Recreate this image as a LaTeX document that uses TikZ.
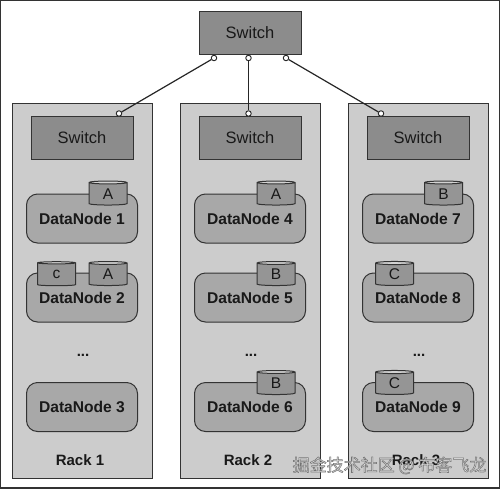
\documentclass[tikz,border=0pt]{standalone}
\usepackage{fontspec}
\setmainfont{Liberation Sans}
\newfontfamily\cjkfont{Noto Sans CJK SC}
\usetikzlibrary{shapes.geometric}
\definecolor{linegray}{HTML}{333333}
\definecolor{rackgray}{HTML}{CCCCCC}
\definecolor{nodegray}{HTML}{A8A8A8}
\definecolor{switchgray}{HTML}{8C8C8C}
\definecolor{diskgray}{HTML}{959595}
\definecolor{capgray}{HTML}{D2D2D2}
\tikzset{
  rackbox/.style={draw=linegray,line width=1pt,fill=rackgray,minimum width=140pt,minimum height=375pt,inner sep=0pt},
  switchbox/.style={draw=linegray,line width=1pt,fill=switchgray,minimum width=102pt,minimum height=43pt,inner sep=0pt,font=\fontsize{16.5}{18}\selectfont,text=black!90},
  datanode/.style={draw=linegray,line width=1pt,fill=nodegray,rounded corners=11pt,minimum width=111pt,minimum height=49pt,inner sep=0pt,font=\fontsize{15.6}{18}\selectfont\bfseries,text=black!90},
  disk/.style={cylinder,shape border rotate=90,aspect=0.28,draw=linegray,line width=1pt,cylinder uses custom fill,cylinder body fill=diskgray,cylinder end fill=capgray,minimum width=38pt,minimum height=24pt,inner sep=0pt,font=\fontsize{15.5}{18}\selectfont,text=black!90},
  port/.style={circle,draw=black!85,line width=0.9pt,fill=white,minimum size=5.5pt,inner sep=0pt},
  racklabel/.style={font=\fontsize{15}{18}\selectfont\bfseries,text=black!90},
  dots/.style={font=\fontsize{15}{18}\selectfont\bfseries,text=black!90},
  link/.style={black!85,line width=1.2pt},
}
\begin{document}
\begin{tikzpicture}[x=1pt,y=-1pt]
  \useasboundingbox (0,0) rectangle (500,490);
  \draw[linegray,line width=1.4pt] (0.7,0.7) rectangle (499.3,488);
  % first rack
  \begin{scope}
    \node[rackbox] (rack1) at (82,290.5) {};
    \node[switchbox] (switch1) at (82,137.5) {Switch};
    \node[datanode] (dn1) at (82,218.5) {DataNode 1};
    \node[datanode] (dn2) at (82,297.5) {DataNode 2};
    \node[datanode] (dn3) at (82,407) {DataNode 3};
    \node[disk] (disk1) at (108,194) {A};
    \node[disk] (disk2) at (56.5,274.5) {c};
    \node[disk] (disk3) at (108,274.5) {A};
    \node[dots] (dots1) at (83,355) {...};
    \node[racklabel] (label1) at (80,460) {Rack 1};
    \node[port] (port1) at (119,113.5) {};
  \end{scope}
  % second rack
  \begin{scope}[xshift=168pt]
    \node[rackbox] (rack2) at (82,290.5) {};
    \node[switchbox] (switch2) at (82,137.5) {Switch};
    \node[datanode] (dn4) at (82,218.5) {DataNode 4};
    \node[datanode] (dn5) at (82,297.5) {DataNode 5};
    \node[datanode] (dn6) at (82,407) {DataNode 6};
    \node[disk] (disk4) at (108,194) {A};
    \node[disk] (disk5) at (108,274.5) {B};
    \node[disk] (disk6) at (108,383.5) {B};
    \node[dots] (dots2) at (83,355) {...};
    \node[racklabel] (label2) at (80,460) {Rack 2};
    \node[port] (port2) at (80.5,113.5) {};
  \end{scope}
  % third rack
  \begin{scope}[xshift=336pt]
    \node[rackbox] (rack3) at (82,290.5) {};
    \node[switchbox] (switch3) at (82,137.5) {Switch};
    \node[datanode] (dn7) at (82,218.5) {DataNode 7};
    \node[datanode] (dn8) at (82,297.5) {DataNode 8};
    \node[datanode] (dn9) at (82,407) {DataNode 9};
    \node[disk] (disk7) at (107.5,194) {B};
    \node[disk] (disk8) at (58.5,274.5) {C};
    \node[disk] (disk9) at (58.5,383.5) {C};
    \node[dots] (dots3) at (83,355) {...};
    \node[racklabel] (label3) at (80,460) {Rack 3};
    \node[port] (port3) at (45,113.5) {};
  \end{scope}
  % top switch
  \node[switchbox] (top) at (250,33) {Switch};
  \node[port] (up1) at (214,58) {};
  \node[port] (up2) at (248.5,58) {};
  \node[port] (up3) at (286,58) {};
  \draw[link] (up1) -- (port1);
  \draw[link] (up2) -- (port2);
  \draw[link] (up3) -- (port3);
  \node[font=\cjkfont\fontsize{17}{18}\selectfont] (mark) at (389.5,465.5) {\special{pdf:code q 2 Tr 0.5 w 0.45 G 0.88 g}掘金技术社区 @ 布客飞龙\special{pdf:code Q}};
\end{tikzpicture}
\end{document}
